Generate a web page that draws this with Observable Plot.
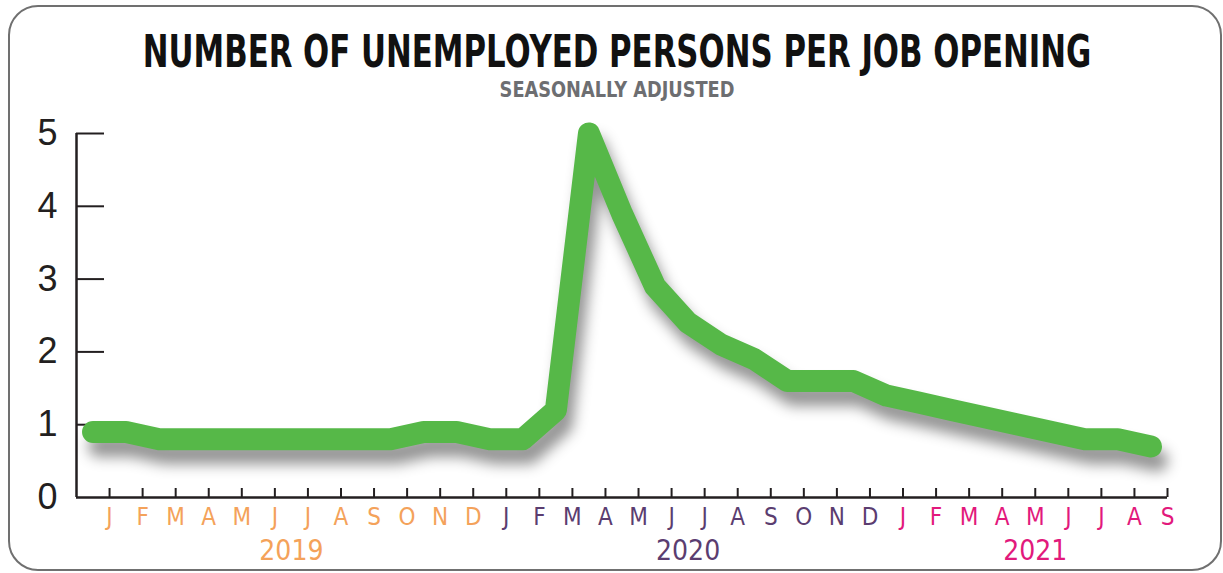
<!DOCTYPE html>
<html><head><meta charset="utf-8">
<script src="https://cdn.jsdelivr.net/npm/d3@7"></script>
<script src="https://cdn.jsdelivr.net/npm/@observablehq/plot@0.6"></script>
<style>
html,body{margin:0;padding:0;background:#fff;}
#wrap{position:relative;width:1223px;height:573px;overflow:hidden;background:#fff;}
#border{position:absolute;left:8px;top:5px;width:1214px;height:566px;box-sizing:border-box;border:2px solid #707070;border-radius:30px;pointer-events:none;}
#head{display:block;overflow:visible;}
#chart svg{display:block;}
</style></head><body>
<div id="wrap"><svg id="head" width="1223" height="100"></svg><div id="chart"></div><div id="border"></div></div>
<script>
const title = "NUMBER OF UNEMPLOYED PERSONS PER JOB OPENING";
const subtitle = "SEASONALLY ADJUSTED";
const monthLabels = ["J","F","M","A","M","J","J","A","S","O","N","D",
                     "J","F","M","A","M","J","J","A","S","O","N","D",
                     "J","F","M","A","M","J","J","A","S"];
const monthYears = [2019,2019,2019,2019,2019,2019,2019,2019,2019,2019,2019,2019,
                    2020,2020,2020,2020,2020,2020,2020,2020,2020,2020,2020,2020,
                    2021,2021,2021,2021,2021,2021,2021,2021,2021];
const ratio = [0.9,0.9,0.8,0.8,0.8,0.8,0.8,0.8,0.8,0.8,0.9,0.9,
               0.8,0.8,1.2,5.0,3.9,2.9,2.4,2.1,1.9,1.6,1.6,1.6,
               1.4,1.3,1.2,1.1,1.0,0.9,0.8,0.8,0.7];
const years = [2019, 2020, 2021];
const yearColors = ["#f4a25a", "#5b3d70", "#e2197c"];
const yTicks = [0, 1, 2, 3, 4, 5];

const narrow = "'Liberation Sans Narrow', 'DejaVu Sans Condensed', sans-serif";
const regular = "'Liberation Sans', Arial, sans-serif";

// Title block: fit each line to its width with a horizontal scale
const head = d3.select("#head");
function fitText(str, cx, baseline, size, weight, fill, targetW) {
  const g = head.append("g");
  const t = g.append("text").attr("x", 0).attr("y", 0).attr("text-anchor", "middle")
    .attr("font-family", narrow).attr("font-weight", weight).attr("font-size", size)
    .attr("fill", fill).text(str);
  const w = t.node().getComputedTextLength();
  g.attr("transform", `translate(${cx},${baseline}) scale(${targetW / w},1)`);
}
fitText(title, 617, 67, 44, 700, "#111", 949);
fitText(subtitle, 617, 97, 21, 700, "#6d6e71", 235);

const colorOf = y => yearColors[years.indexOf(y)];
const data = ratio.map((v, i) => ({i, v}));
const tickPos = monthLabels.map((d, i) => i + 0.5);
const xDomain = [-0.5, monthLabels.length - 0.5];
const yearCenters = years.map(y => d3.mean(tickPos.filter((p, i) => monthYears[i] === y)));

const plot = Plot.plot({
  width: 1223, height: 473,
  marginTop: 33, marginBottom: 76, marginLeft: 76, marginRight: 56,
  x: {domain: xDomain},
  y: {domain: [0, 5]},
  color: {type: "identity"},
  style: {background: "transparent", overflow: "visible"},
  marks: [
    Plot.axisY(yTicks, {tickSize: 0, tickPadding: 19, tickFormat: d => String(d), fontSize: 36, fontFamily: regular, fill: "#231f20", label: null}),
    Plot.axisY(yTicks.slice(1), {tickSize: 28, dx: 28, tickFormat: () => "", stroke: "#231f20", strokeWidth: 2, label: null}),
    Plot.axisX(tickPos, {tickSize: 9, dy: -9, tickFormat: () => "", stroke: "#231f20", strokeWidth: 2, label: null}),
    Plot.ruleX([xDomain[0]], {stroke: "#231f20", strokeWidth: 2.5}),
    Plot.ruleY([0], {stroke: "#231f20", strokeWidth: 2.5}),
    Plot.text(monthLabels, {x: (d, i) => tickPos[i], text: d => d, frameAnchor: "bottom", dy: 20,
      lineAnchor: "middle", fill: (d, i) => colorOf(monthYears[i]), fontSize: 24, fontFamily: narrow}),
    Plot.text(years, {x: (d, i) => yearCenters[i], text: d => String(d), frameAnchor: "bottom", dy: 54,
      lineAnchor: "middle", fill: d => colorOf(d), fontSize: 28, fontFamily: narrow}),
    Plot.line(data, {x: "i", y: "v", stroke: "#56b848", strokeWidth: 22,
      strokeLinecap: "round", strokeLinejoin: "round"})
  ]
});
d3.select(plot).selectAll('g[aria-label="line"]')
  .style("filter", "drop-shadow(6px 14px 7px rgba(0,0,0,0.42))");
document.getElementById("chart").appendChild(plot);
</script>
</body></html>
